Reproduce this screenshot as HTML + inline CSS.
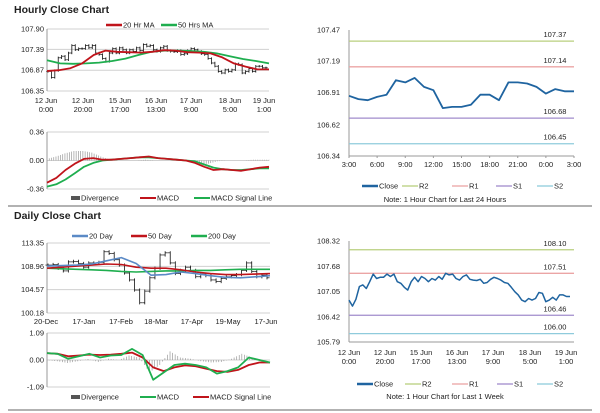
<!DOCTYPE html>
<html><head><meta charset="utf-8"><style>
body{margin:0;background:#fff;}
svg{display:block;font-family:"Liberation Sans",sans-serif;}
text{fill:#222;font-size:7.5px;}
.t{font-weight:bold;font-size:10.5px;}
</style></head><body>
<svg id="s" width="600" height="413">
<text class="t" x="14" y="13">Hourly Close Chart</text>
<text class="t" x="14" y="219">Daily Close Chart</text>
<line x1="8" y1="206" x2="592" y2="206" stroke="#999" stroke-width="1.5"/>
<line x1="8" y1="410" x2="592" y2="410" stroke="#999" stroke-width="1.5"/>
</svg>
<script>
// ---- data ----
const weekClose=[106.84,106.69,106.86,107.18,107.22,107.13,107.30,107.49,107.38,107.41,107.41,107.49,107.43,107.49,107.30,107.26,107.16,107.09,107.30,107.41,107.30,107.43,107.38,107.30,107.38,107.34,107.43,107.36,107.51,107.47,107.49,107.38,107.34,107.43,107.47,107.36,107.34,107.33,107.36,107.26,107.28,107.36,107.41,107.38,107.34,107.28,107.26,107.16,107.05,106.97,106.84,106.80,106.88,106.84,106.88,107.03,107.01,106.80,106.84,106.91,106.84,106.97,106.97,106.93,106.93];
const ma20h=[106.85,106.87,106.92,107.04,107.25,107.36,107.33,107.32,107.31,107.33,107.37,107.36,107.32,107.31,107.29,107.19,107.04,106.96,106.89,106.89];
const ma50h=[107.12,107.04,107.03,107.04,107.06,107.10,107.16,107.25,107.33,107.36,107.36,107.35,107.33,107.29,107.22,107.15,107.10,107.04];
const macdH=[-0.28,-0.22,-0.12,-0.04,0.02,0.03,0.01,0.01,0.02,0.03,0.04,0.05,0.03,0.02,0.01,0.0,-0.03,-0.08,-0.12,-0.11,-0.12,-0.13,-0.11,-0.09,-0.08];
const sigH=[-0.33,-0.30,-0.24,-0.16,-0.08,-0.03,0.0,0.01,0.02,0.03,0.04,0.04,0.03,0.02,0.01,0.0,-0.01,-0.05,-0.09,-0.11,-0.12,-0.12,-0.11,-0.10,-0.10];
const divH=[0.02,0.05,0.09,0.12,0.12,0.10,0.05,0.01,0.0,0.0,0.0,0.01,0.0,0.0,0.0,0.0,-0.02,-0.05,-0.04,-0.01,0.0,0.0,0.0,0.01,0.01];
const dayClose=[109.2,109.3,108.6,108.1,109.8,109.9,109.5,108.8,109.6,109.6,109.7,111.7,111.4,110.2,109.2,107.7,106.4,104.5,102.1,104.3,106.8,108.6,111.1,111.5,109.6,107.6,108.2,108.8,108.2,107.0,107.5,107.2,106.4,106.1,106.7,107.0,107.2,107.4,108.2,109.6,108.0,107.0,107.3,106.8];
const ma20d=[109.0,109.1,109.2,109.4,110.0,110.6,109.5,107.3,107.4,107.9,107.6,107.2,106.9,106.8,107.0,107.2];
const ma50d=[108.6,108.8,109.0,109.2,109.4,109.3,108.8,108.6,108.6,108.3,107.9,107.6,107.4,107.4,107.5,107.6];
const ma200d=[108.6,108.5,108.4,108.3,108.2,108.0,107.9,108.0,108.1,108.1,108.2,108.2,108.3,108.4,108.4,108.4];
const macdD=[0.28,0.25,0.05,0.15,0.25,0.10,0.18,0.20,0.45,0.20,-0.80,-0.50,-0.20,-0.15,-0.20,-0.30,-0.55,-0.45,-0.30,0.10,0.00,-0.10];
const sigD=[0.28,0.25,0.15,0.18,0.22,0.20,0.22,0.25,0.30,0.10,-0.30,-0.45,-0.30,-0.22,-0.25,-0.35,-0.45,-0.48,-0.40,-0.20,-0.10,-0.10];
const divD=[0,-0.05,-0.12,-0.05,0.04,-0.08,0.05,0,0.18,0.1,-0.5,-0.2,0.35,0.1,0.05,-0.05,-0.1,-0.08,0.05,0.25,0.1,0];
const hourClose=[106.88,106.85,106.84,106.87,106.89,107.02,107.00,107.04,106.96,106.93,106.77,106.78,106.78,106.80,106.89,106.89,106.84,107.00,107.00,106.99,106.96,106.90,106.94,106.92,106.92];
const hLevels=[107.37,107.14,106.68,106.45];
const wLevels=[108.10,107.51,106.46,106.00];
const levelNames=['R2','R1','S1','S2'];
const levelColors=['#b8cf7e','#eba5a5','#a08ccc','#8fcbdc'];
const hTicks=['107.47','107.19','106.91','106.62','106.34'];
const hXLabels=['3:00','6:00','9:00','12:00','15:00','18:00','21:00','0:00','3:00'];
const wXLabels=[['12 Jun','0:00'],['12 Jun','20:00'],['15 Jun','17:00'],['16 Jun','13:00'],['17 Jun','9:00'],['18 Jun','5:00'],['19 Jun','1:00']];
const dXLabels=['20-Dec','17-Jan','17-Feb','18-Mar','17-Apr','19-May','17-Jun'];

// ---- helpers ----
const S=document.getElementById('s'),NS='http://www.w3.org/2000/svg';
function el(t,a){const e=document.createElementNS(NS,t);for(const k in a)e.setAttribute(k,a[k]);S.appendChild(e);return e;}
function txt(x,y,s,anchor){const e=el('text',{x:x,y:y,'text-anchor':anchor||'start'});e.textContent=s;return e;}
function scale(v0,v1,p0,p1){return v=>p0+(v-v0)/(v1-v0)*(p1-p0);}
function xs(n,x0,x1){return i=>x0+i*(x1-x0)/(n-1);}
function poly(vals,x0,x1,y,color,w,name){const X=xs(vals.length,x0,x1);
 const e=el('polyline',{points:vals.map((v,i)=>X(i).toFixed(1)+','+y(v).toFixed(1)).join(' '),fill:'none',stroke:color,'stroke-width':w,'stroke-linejoin':'round'});
 
 return e;}
function hline(x0,x1,yy,c){return el('line',{x1:x0,x2:x1,y1:yy,y2:yy,stroke:c,'stroke-width':1});}
function yTicks(vals,y,x,gx0,gx1,grid){vals.forEach(v=>{const yy=y(parseFloat(v));
 const t=txt(x,yy+2.5,v,'end');
 if(grid)hline(gx0,gx1,yy,'#d0d0d0');});}
function legendLine(x,y,c,label,w,name){const l=el('line',{x1:x,x2:x+16,y1:y,y2:y,stroke:c,'stroke-width':w||2});
 
 
 txt(x+17,y+2.5,label);}
function legendBox(x,y,label,name){const r=el('rect',{x:x,y:y-2,width:9,height:4,fill:'#555'});
 
 
 txt(x+10,y+2.5,label);}
function bars(vals,x0,x1,y,hw,name){const X=xs(vals.length,x0,x1);
 const half=(x1-x0)/(vals.length-1)/2;
 vals.forEach((v,i)=>{const p=i>0?vals[i-1]:v;
  const hi=Math.max(p,v)+hw,lo=Math.min(p,v)-hw;
  const b=el('line',{x1:X(i),x2:X(i),y1:y(hi),y2:y(lo),stroke:'#111','stroke-width':0.8});
  
  
  el('line',{x1:X(i)-half,x2:X(i),y1:y(p),y2:y(p),stroke:'#111','stroke-width':0.7});
  el('line',{x1:X(i),x2:X(i)+half,y1:y(v),y2:y(v),stroke:'#111','stroke-width':0.7});});}
function divBars(vals,x0,x1,y,name){const X=xs(vals.length*4,x0,x1);
 for(let j=0;j<vals.length*4;j++){const i=Math.min(vals.length-1,Math.floor(j/4));const f=j/4-i;
  const v=vals[i]+(vals[Math.min(i+1,vals.length-1)]-vals[i])*f;
  const b=el('line',{x1:X(j),x2:X(j),y1:y(0),y2:y(v),stroke:'#999','stroke-width':0.7});
  
  }}

// ---- hourly (top-left) ----
{const x0=47,x1=269,y=scale(106.35,107.90,91,29);
 yTicks(['107.90','107.39','106.87','106.35'],y,44,x0,x1,true);
 el('line',{x1:x0,x2:x0,y1:29,y2:91,stroke:'#999'});
 bars(weekClose,x0+1,x1-3,y,0.03,'hourly-bar');
 poly(ma50h,x0,x1,y,'#1fae4f',1.8,'ma50-line');
 poly(ma20h,x0,x1,y,'#c0141b',1.8,'ma20-line');
 legendLine(106,25,'#c0141b','20 Hr MA',2.5,'legend-ma20');legendLine(161,25,'#1fae4f','50 Hrs MA',2.5,'legend-ma50');
 wXLabels.forEach((l,i)=>{const xx=[46,83,120,156,191,230,264][i];txt(xx,103,l[0],'middle');txt(xx,112,l[1],'middle');});
 const ym=scale(-0.36,0.36,189,132);
 yTicks(['0.36','0.00','-0.36'],ym,44,x0,x1,true);
 el('line',{x1:x0,x2:x0,y1:132,y2:189,stroke:'#999'});
 divBars(divH,x0,x1,ym,'hourly-divergence-bar');
 poly(sigH,x0,x1,ym,'#1fae4f',1.8,'hourly-signal-line');
 poly(macdH,x0,x1,ym,'#c0141b',1.8,'hourly-macd-line');
 legendBox(71,198,'Divergence','legend-divergence');legendLine(140,198,'#c0141b','MACD',2,'legend-macd');legendLine(194,198,'#1fae4f','MACD Signal Line',2,'legend-signal');
}
// ---- hourly 24h (top-right) ----
{const x0=349,x1=574,y=scale(106.34,107.47,156,30);
 yTicks(hTicks,y,340,0,0,false);
 el('line',{x1:x0,x2:x0,y1:30,y2:156,stroke:'#999'});el('line',{x1:x0,x2:x1,y1:156,y2:156,stroke:'#999'});
 hXLabels.forEach((l,i)=>{const xx=x0+i*(x1-x0)/8;txt(xx,167,l,'middle');el('line',{x1:xx,x2:xx,y1:156,y2:158,stroke:'#999'});});
 hLevels.forEach((v,i)=>{const l=hline(x0,x1,y(v),levelColors[i]);l.setAttribute('stroke-width',1.3);
  
  txt(555,y(v)-4,v.toFixed(2),'middle');});
 poly(hourClose,x0,x1,y,'#1f64a0',1.8,'close-24h-line');
 legendLine(362,186,'#1f64a0','Close',2.5,'legend-close');
 levelNames.forEach((n,i)=>legendLine([402,452,496,537][i],186,levelColors[i],n,1.3,'legend-'+n.toLowerCase()));
 txt(445,202,'Note: 1 Hour Chart for Last 24 Hours','middle').setAttribute('font-size','6.5');
}
// ---- daily (bottom-left) ----
{const x0=47,x1=270,y=scale(100.18,113.35,313,243);
 yTicks(['113.35','108.96','104.57','100.18'],y,44,x0,x1,true);
 el('line',{x1:x0,x2:x0,y1:243,y2:313,stroke:'#999'});
 bars(dayClose,x0+1,x1-3,y,0.3,'daily-bar');
 poly(ma200d,x0,x1,y,'#1fae4f',1.6,'ma200-line');
 poly(ma50d,x0,x1,y,'#c0141b',1.6,'ma50d-line');
 poly(ma20d,x0,x1,y,'#5b8ac6',1.6,'ma20d-line');
 legendLine(72,236,'#5b8ac6','20 Day',2.5,'legend-20day');legendLine(131,236,'#c0141b','50 Day',2.5,'legend-50day');legendLine(191,236,'#1fae4f','200 Day',2.5,'legend-200day');
 dXLabels.forEach((l,i)=>txt([46,84,121,156,192,228,266][i],324,l,'middle'));
 const ym=scale(-1.09,1.09,387,333);
 yTicks(['1.09','0.00','-1.09'],ym,44,x0,x1,true);
 el('line',{x1:x0,x2:x0,y1:333,y2:387,stroke:'#999'});
 divBars(divD,x0,x1,ym,'daily-divergence-bar');
 poly(sigD,x0,x1,ym,'#c0141b',1.8,'daily-signal-line');
 poly(macdD,x0,x1,ym,'#1fae4f',1.8,'daily-macd-line');
 legendBox(71,397,'Divergence','legend-daily-divergence');legendLine(140,397,'#1fae4f','MACD',2,'legend-daily-macd');legendLine(193,397,'#c0141b','MACD Signal Line',2,'legend-daily-signal');
}
// ---- weekly (bottom-right) ----
{const x0=349,x1=574,y=scale(105.79,108.32,342,241);
 yTicks(['108.32','107.68','107.05','106.42','105.79'],y,340,0,0,false);
 el('line',{x1:x0,x2:x0,y1:241,y2:342,stroke:'#999'});el('line',{x1:x0,x2:x1,y1:342,y2:342,stroke:'#999'});
 wXLabels.forEach((l,i)=>{const xx=[349,385,421,457,493,530,566][i];txt(xx,355,l[0],'middle');txt(xx,364,l[1],'middle');});
 wLevels.forEach((v,i)=>{const l=hline(x0,x1,y(v),levelColors[i]);l.setAttribute('stroke-width',1.3);
  
  txt(555,y(v)-4,v.toFixed(2),'middle');});
 poly(weekClose,x0,x1-4,y,'#1f64a0',1.5,'close-week-line');
 legendLine(357,384,'#1f64a0','Close',2.5,'legend-week-close');
 levelNames.forEach((n,i)=>legendLine([405,452,497,537][i],384,levelColors[i],n,1.3,'legend-week-'+n.toLowerCase()));
 txt(445,399,'Note: 1 Hour Chart for Last 1 Week','middle').setAttribute('font-size','6.5');
}
</script>
</body></html>
